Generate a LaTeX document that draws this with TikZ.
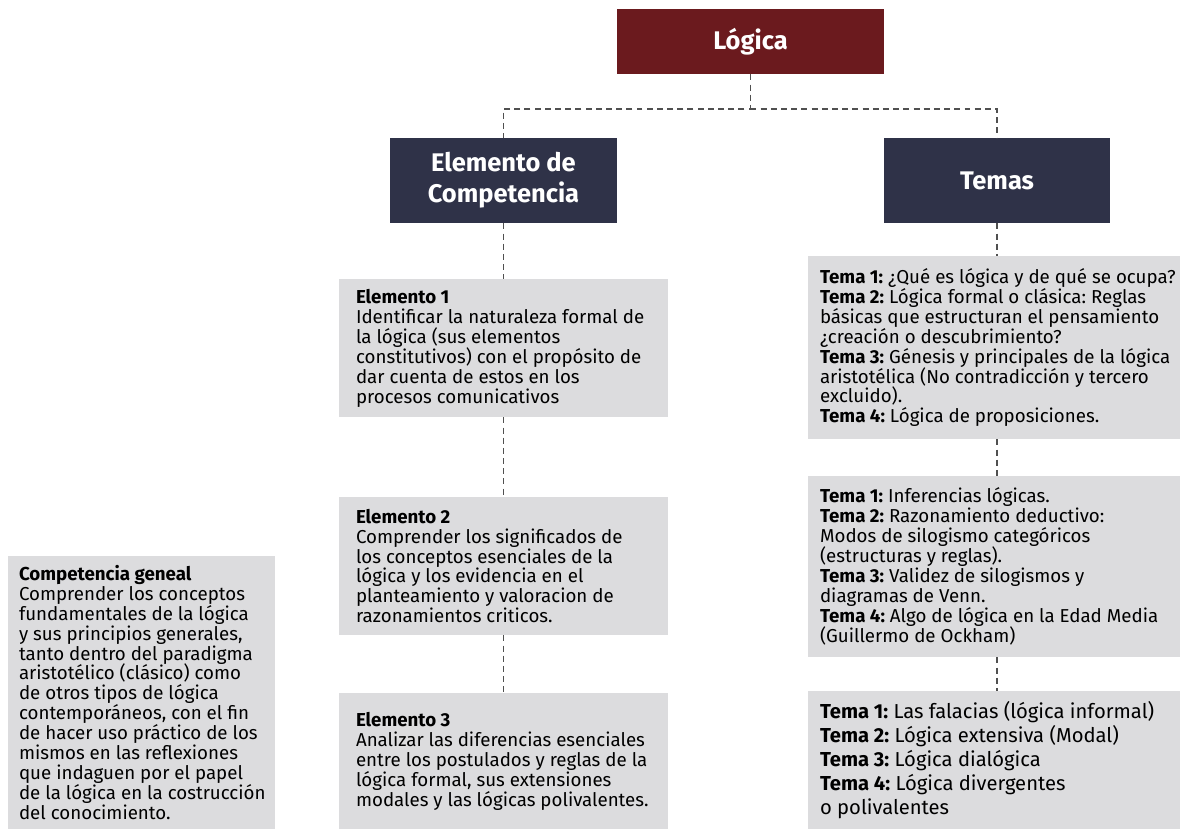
\documentclass[tikz,border=0pt]{standalone}
\usepackage{fontspec}
\setmainfont{Fira Sans}
\usetikzlibrary{positioning}
\definecolor{logred}{RGB}{107,26,30}
\definecolor{navy}{RGB}{47,50,72}
\definecolor{boxgray}{RGB}{220,220,222}
\definecolor{linegray}{RGB}{80,80,80}
\frenchspacing

\begin{document}
\begin{tikzpicture}[x=0.02cm,y=-0.02cm,
  head/.style={fill=navy,text=white,font=\fontsize{14.5}{17.6}\selectfont\bfseries,
    align=center,inner sep=0pt,minimum width=4.54cm,minimum height=1.7cm},
  greybox/.style={fill=boxgray,inner sep=0pt,minimum width=#1},
  txt/.style={anchor=west,align=left,inner sep=0pt,font=\fontsize{10.65}{11.38}\selectfont},
  bigtxt/.style={txt,font=\fontsize{11.5}{13.7}\selectfont},
  link/.style={draw=linegray,line width=0.7pt,dash pattern=on 3.4pt off 2.4pt}]
\useasboundingbox (0,0) rectangle (1180,829);

% title and the two heads
\node[fill=logred,text=white,font=\fontsize{14.5}{17}\selectfont\bfseries,inner sep=0pt,
  minimum width=5.34cm,minimum height=1.3cm] (logica) at (750.5,41.5) {Lógica};
\node[head] (elcomp) at (503.5,180.5) {Elemento de\\Competencia};
\node[head] (temas) at (997,180.5) {Temas};

% left column
\node[greybox=6.58cm,minimum height=2.76cm] (el1) at (503.5,348) {};
\node[txt] (el1txt) at ([xshift=17*0.02cm]el1.west)
  {\textbf{Elemento 1}\\Identificar la naturaleza formal de\\la lógica (sus elementos\\
   constitutivos) con el propósito de\\dar cuenta de estos en los\\procesos comunicativos};
\node[greybox=6.58cm,minimum height=2.76cm] (el2) at (503.5,566) {};
\node[txt] (el2txt) at ([xshift=17*0.02cm]el2.west)
  {\textbf{Elemento 2}\\Comprender los significados de\\los conceptos esenciales de la\\
   lógica y los evidencia en el\\planteamiento y valoracion de\\razonamientos criticos.};
\node[greybox=6.58cm,minimum height=2.72cm] (el3) at (503.5,761) {};
\node[txt] (el3txt) at ([xshift=17*0.02cm]el3.west)
  {\textbf{Elemento 3}\\Analizar las diferencias esenciales\\entre los postulados y reglas de la\\
   lógica formal, sus extensiones\\modales y las lógicas polivalentes.};

% right column
\node[greybox=7.44cm,minimum height=3.66cm] (tema1) at (994,347.5) {};
\node[txt] (tema1txt) at ([xshift=12*0.02cm]tema1.west)
  {\textbf{Tema 1:} ¿Qué es lógica y de qué se ocupa?\\
   \textbf{Tema 2:} Lógica formal o clásica: Reglas\\básicas que estructuran el pensamiento\\
   ¿creación o descubrimiento?\\
   \textbf{Tema 3:} Génesis y principales de la lógica\\aristotélica (No contradicción y tercero\\
   excluido).\\
   \textbf{Tema 4:} Lógica de proposiciones.};
\node[greybox=7.44cm,minimum height=3.62cm] (tema2) at (994,566.5) {};
\node[txt] (tema2txt) at ([xshift=12*0.02cm]tema2.west)
  {\textbf{Tema 1:} Inferencias lógicas.\\
   \textbf{Tema 2:} Razonamiento deductivo:\\Modos de silogismo categóricos\\
   (estructuras y reglas).\\
   \textbf{Tema 3:} Validez de silogismos y\\diagramas de Venn.\\
   \textbf{Tema 4:} Algo de lógica en la Edad Media\\(Guillermo de Ockham)};
\node[greybox=7.44cm,minimum height=2.76cm] (tema3) at (994,760) {};
\node[bigtxt] (tema3txt) at ([xshift=12*0.02cm]tema3.west)
  {\textbf{Tema 1:} Las falacias (lógica informal)\\
   \textbf{Tema 2:} Lógica extensiva (Modal)\\
   \textbf{Tema 3:} Lógica dialógica\\
   \textbf{Tema 4:} Lógica divergentes\\o polivalentes};

% general competence
\node[greybox=5.34cm,minimum height=5.46cm] (compgen) at (141.5,692.5) {};
\node[txt] (compgentxt) at ([xshift=11*0.02cm]compgen.west)
  {\textbf{Competencia geneal}\\Comprender los conceptos\\fundamentales de la lógica\\
   y sus principios generales,\\tanto dentro del paradigma\\aristotélico (clásico) como\\
   de otros tipos de lógica\\contemporáneos, con el fin\\de hacer uso práctico de los\\
   mismos en las reflexiones\\que indaguen por el papel\\de la lógica en la costrucción\\
   del conocimiento.};

% connectors
\coordinate (split) at (750.5,109);
\draw[link] (logica.south) -- (split) -| (elcomp.north);
\draw[link] (split) -| (temas.north);
\draw[link] (elcomp.south) -- (el1.north);
\draw[link] (el1.south) -- (el2.north);
\draw[link] (el2.south) -- (el3.north);
\draw[link] (temas.south) -- (temas.south |- tema1.north);
\draw[link] (temas.south |- tema1.south) -- (temas.south |- tema2.north);
\draw[link] (temas.south |- tema2.south) -- (temas.south |- tema3.north);
\end{tikzpicture}
\end{document}
